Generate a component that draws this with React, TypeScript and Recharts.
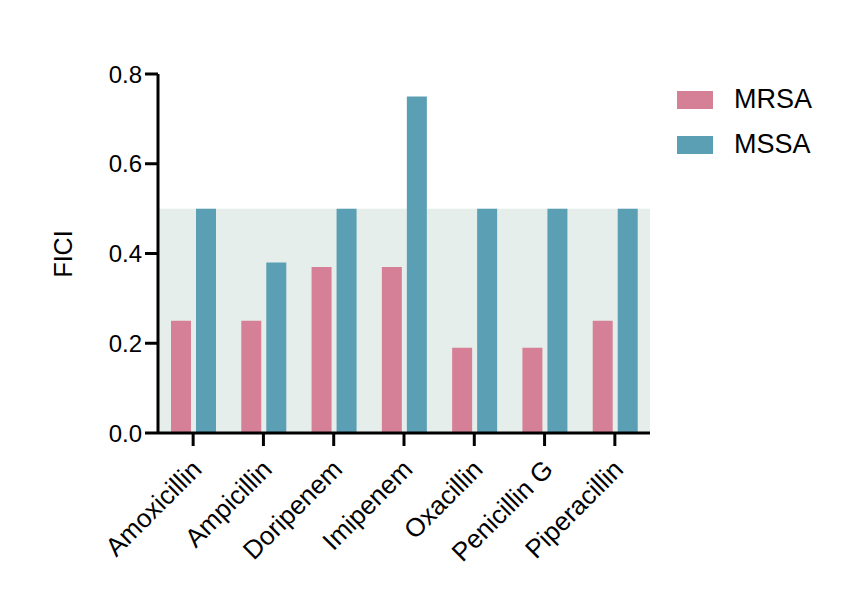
import React from 'react';
import { BarChart, Bar, XAxis, YAxis, ReferenceArea } from 'recharts';

const categories = ['Amoxicillin', 'Ampicillin', 'Doripenem', 'Imipenem', 'Oxacillin', 'Penicillin G', 'Piperacillin'];
const mrsa = [0.25, 0.25, 0.37, 0.37, 0.19, 0.19, 0.25];
const mssa = [0.5, 0.38, 0.5, 0.75, 0.5, 0.5, 0.5];
const yTicks = [0, 0.2, 0.4, 0.6, 0.8];
const seriesNames = ['MRSA', 'MSSA'];

const data = categories.map((c, i) => ({ name: c, MRSA: mrsa[i], MSSA: mssa[i] }));

const PINK = '#d58096';
const TEAL = '#5a9fb3';
const BAND = '#e6eeeb';
const FONT = '"Liberation Sans", Arial, sans-serif';
const COLORS = [PINK, TEAL];

const XTick = (props: any) => {
  const { x, y, payload } = props;
  return (
    <g transform={`translate(${x + 10},${y + 23})`}>
      <text transform="rotate(-45)" textAnchor="end" fontFamily={FONT} fontSize={26} fill="#000">
        {payload.value}
      </text>
    </g>
  );
};

export default function App() {
  return (
    <div style={{ position: 'absolute', left: 0, top: 0, width: 846, height: 598, background: '#fff' }}>
      <BarChart
        width={846}
        height={598}
        data={data}
        margin={{ top: 74, right: 196, bottom: 40, left: 98 }}
        barSize={20}
        barGap={5}
      >
        <ReferenceArea y1={0} y2={0.5} fill={BAND} fillOpacity={1} stroke="none" />
        <XAxis
          dataKey="name"
          height={125}
          interval={0}
          tickSize={13}
          tickLine={{ stroke: '#000', strokeWidth: 3 }}
          axisLine={{ stroke: '#000', strokeWidth: 3 }}
          tick={<XTick />}
        />
        <XAxis xAxisId="top" orientation="top" dataKey="name" height={0} tick={false} tickLine={false} axisLine={{ stroke: '#000', strokeWidth: 3 }} />
        <YAxis
          domain={[0, 0.8]}
          ticks={yTicks}
          width={60}
          tickSize={13}
          tickMargin={3}
          tickFormatter={(v: number) => v.toFixed(1)}
          tickLine={{ stroke: '#000', strokeWidth: 3 }}
          axisLine={{ stroke: '#000', strokeWidth: 3 }}
          tick={{ fill: '#000', fontSize: 24, fontFamily: FONT }}
          label={{
            content: () => (
              <text x={63} y={254} transform="rotate(-90,63,254)" textAnchor="middle" dominantBaseline="central" fontFamily={FONT} fontSize={25} fill="#000">
                FICI
              </text>
            ),
          }}
        />
        <YAxis yAxisId="right" orientation="right" domain={[0, 0.8]} width={0} tick={false} tickLine={false} axisLine={{ stroke: '#000', strokeWidth: 3 }} />
        <Bar dataKey="MRSA" fill={PINK} isAnimationActive={false} />
        <Bar dataKey="MSSA" fill={TEAL} isAnimationActive={false} />
      </BarChart>
      <div style={{ position: 'absolute', left: 677, top: 77, fontFamily: FONT, fontSize: 27, color: '#000' }}>
        {seriesNames.map((n, i) => (
          <div key={n} style={{ display: 'flex', alignItems: 'center', height: 45 }}>
            <div style={{ width: 36, height: 18, background: COLORS[i], marginRight: 21 }} />
            <span>{n}</span>
          </div>
        ))}
      </div>
    </div>
  );
}
